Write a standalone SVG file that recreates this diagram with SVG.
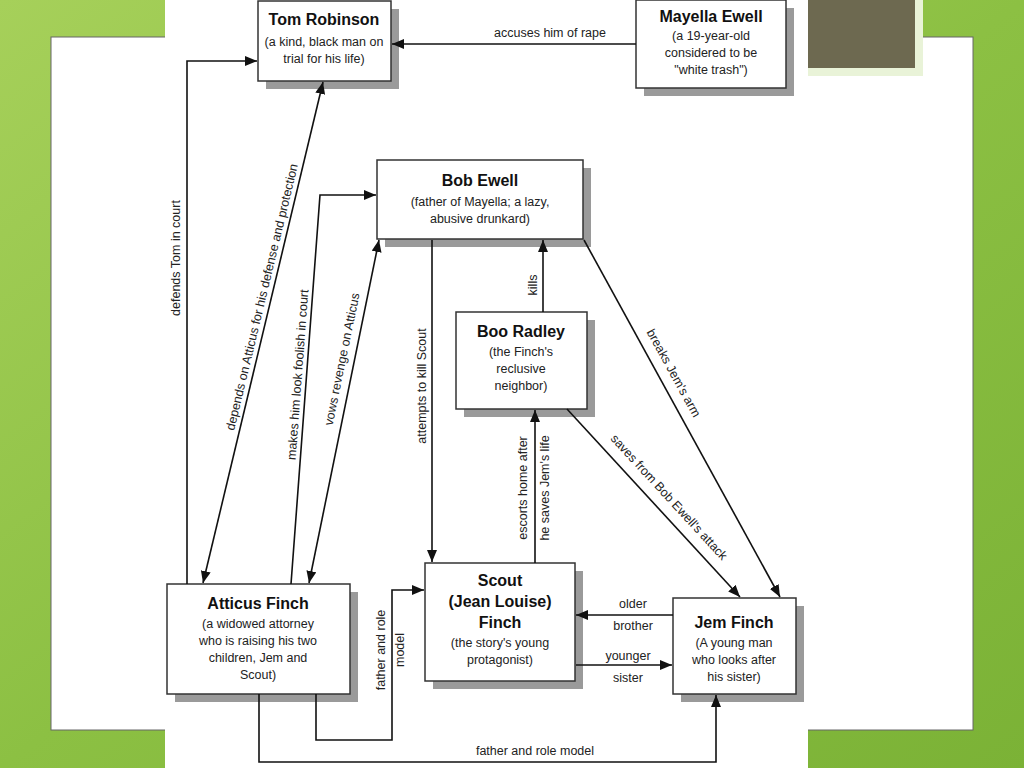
<svg xmlns="http://www.w3.org/2000/svg" width="1024" height="768" viewBox="0 0 1024 768">
<defs>
<linearGradient id="bg" x1="0" y1="0" x2="1" y2="1"><stop offset="0" stop-color="#a6d05a"/><stop offset="0.5" stop-color="#8cc043"/><stop offset="1" stop-color="#7bb236"/></linearGradient>
<marker id="ah" viewBox="0 0 12 10" refX="12" refY="5" markerWidth="12" markerHeight="10" markerUnits="userSpaceOnUse" orient="auto-start-reverse"><path d="M0,0 L12,5 L0,10 z" fill="#111"/></marker>
</defs>
<style>
.box{fill:#fff;stroke:#333;stroke-width:1.5}
.sh{fill:#9a9a9a}
.t{font-family:"Liberation Sans",Arial,sans-serif;font-size:16px;font-weight:bold;fill:#111;text-anchor:middle}
.b{font-family:"Liberation Sans",Arial,sans-serif;font-size:12.5px;fill:#222;text-anchor:middle}
.l{font-family:"Liberation Sans",Arial,sans-serif;font-size:12.5px;fill:#222;text-anchor:middle}
.c{fill:none;stroke:#111;stroke-width:1.6}
</style>
<rect width="1024" height="768" fill="url(#bg)"/>
<rect x="51" y="37" width="922" height="693" fill="#fff" stroke="#666" stroke-width="1"/>
<rect x="803" y="0" width="120" height="76" fill="#e9f3d8"/>
<rect x="808" y="0" width="107" height="68" fill="#6d6950"/>
<rect x="165" y="0" width="643" height="768" fill="#fff"/>
<g id="tom"><rect class="sh" x="266" y="9" width="133" height="80"/><rect class="box" x="258" y="1" width="133" height="80"/><text class="t" x="324" y="25">Tom Robinson</text><text class="b" x="324" y="46">(a kind, black man on</text><text class="b" x="324" y="63">trial for his life)</text></g>
<g id="mayella"><rect class="sh" x="644" y="8" width="150" height="88"/><rect class="box" x="636" y="0" width="150" height="88"/><text class="t" x="711" y="22">Mayella Ewell</text><text class="b" x="711" y="40">(a 19-year-old</text><text class="b" x="711" y="57">considered to be</text><text class="b" x="711" y="74">"white trash")</text></g>
<g id="bob"><rect class="sh" x="385" y="168" width="206" height="79"/><rect class="box" x="377" y="160" width="206" height="79"/><text class="t" x="480" y="186">Bob Ewell</text><text class="b" x="480" y="206">(father of Mayella; a lazy,</text><text class="b" x="480" y="223">abusive drunkard)</text></g>
<g id="boo"><rect class="sh" x="464" y="320" width="131" height="97"/><rect class="box" x="456" y="312" width="131" height="97"/><text class="t" x="521" y="337">Boo Radley</text><text class="b" x="521" y="356">(the Finch's</text><text class="b" x="521" y="373">reclusive</text><text class="b" x="521" y="390">neighbor)</text></g>
<g id="atticus"><rect class="sh" x="175" y="592" width="183" height="110"/><rect class="box" x="167" y="584" width="183" height="110"/><text class="t" x="258" y="609">Atticus Finch</text><text class="b" x="258" y="628">(a widowed attorney</text><text class="b" x="258" y="645">who is raising his two</text><text class="b" x="258" y="662">children, Jem and</text><text class="b" x="258" y="679">Scout)</text></g>
<g id="scout"><rect class="sh" x="433" y="571" width="150" height="118"/><rect class="box" x="425" y="563" width="150" height="118"/><text class="t" x="500" y="586">Scout</text><text class="t" x="500" y="607">(Jean Louise)</text><text class="t" x="500" y="628">Finch</text><text class="b" x="500" y="647">(the story's young</text><text class="b" x="500" y="664">protagonist)</text></g>
<g id="jem"><rect class="sh" x="681" y="606" width="123" height="96"/><rect class="box" x="673" y="598" width="123" height="96"/><text class="t" x="734" y="628">Jem Finch</text><text class="b" x="734" y="647">(A young man</text><text class="b" x="734" y="664">who looks after</text><text class="b" x="734" y="681">his sister)</text></g>
<g id="connectors">
<path class="c" d="M636,44 H392" marker-end="url(#ah)"/>
<path class="c" d="M187,584 V61 H257" marker-end="url(#ah)"/>
<path class="c" d="M323,82 L203,583" marker-start="url(#ah)" marker-end="url(#ah)"/>
<path class="c" d="M291,584 L320,195 H376" marker-end="url(#ah)"/>
<path class="c" d="M379,240 L309,583" marker-start="url(#ah)" marker-end="url(#ah)"/>
<path class="c" d="M432,240 V562" marker-end="url(#ah)"/>
<path class="c" d="M543,312 V240" marker-end="url(#ah)"/>
<path class="c" d="M584,240 L780,597" marker-end="url(#ah)"/>
<path class="c" d="M567,409 L740,597" marker-end="url(#ah)"/>
<path class="c" d="M535,563 V410" marker-end="url(#ah)"/>
<path class="c" d="M673,615 H576" marker-end="url(#ah)"/>
<path class="c" d="M576,665 H672" marker-end="url(#ah)"/>
<path class="c" d="M316,694 V740 H392 V590 H424" marker-end="url(#ah)"/>
<path class="c" d="M259,694 V762 H716 V695" marker-end="url(#ah)"/>
<text class="l" x="550" y="37">accuses him of rape</text>
<text class="l" transform="translate(180,258) rotate(-90)">defends Tom in court</text>
<text class="l" transform="translate(266,298) rotate(-76.5)">depends on Atticus for his defense and protection</text>
<text class="l" transform="translate(302,375) rotate(-85.7)">makes him look foolish in court</text>
<text class="l" transform="translate(346,360) rotate(-78.4)">vows revenge on Atticus</text>
<text class="l" transform="translate(426,386) rotate(-90)">attempts to kill Scout</text>
<text class="l" transform="translate(537,285) rotate(-90)">kills</text>
<text class="l" transform="translate(527,488) rotate(-90)">escorts home after</text>
<text class="l" transform="translate(549,488) rotate(-90)">he saves Jem's life</text>
<text class="l" transform="translate(670,375) rotate(61.2)">breaks Jem's arm</text>
<text class="l" transform="translate(666,500) rotate(47.4)">saves from Bob Ewell's attack</text>
<text class="l" x="633" y="608">older</text>
<text class="l" x="633" y="630">brother</text>
<text class="l" x="628" y="660">younger</text>
<text class="l" x="628" y="682">sister</text>
<text class="l" transform="translate(385,650) rotate(-90)">father and role</text>
<text class="l" transform="translate(404,650) rotate(-90)">model</text>
<text class="l" x="535" y="755">father and role model</text>
</g>
</svg>
